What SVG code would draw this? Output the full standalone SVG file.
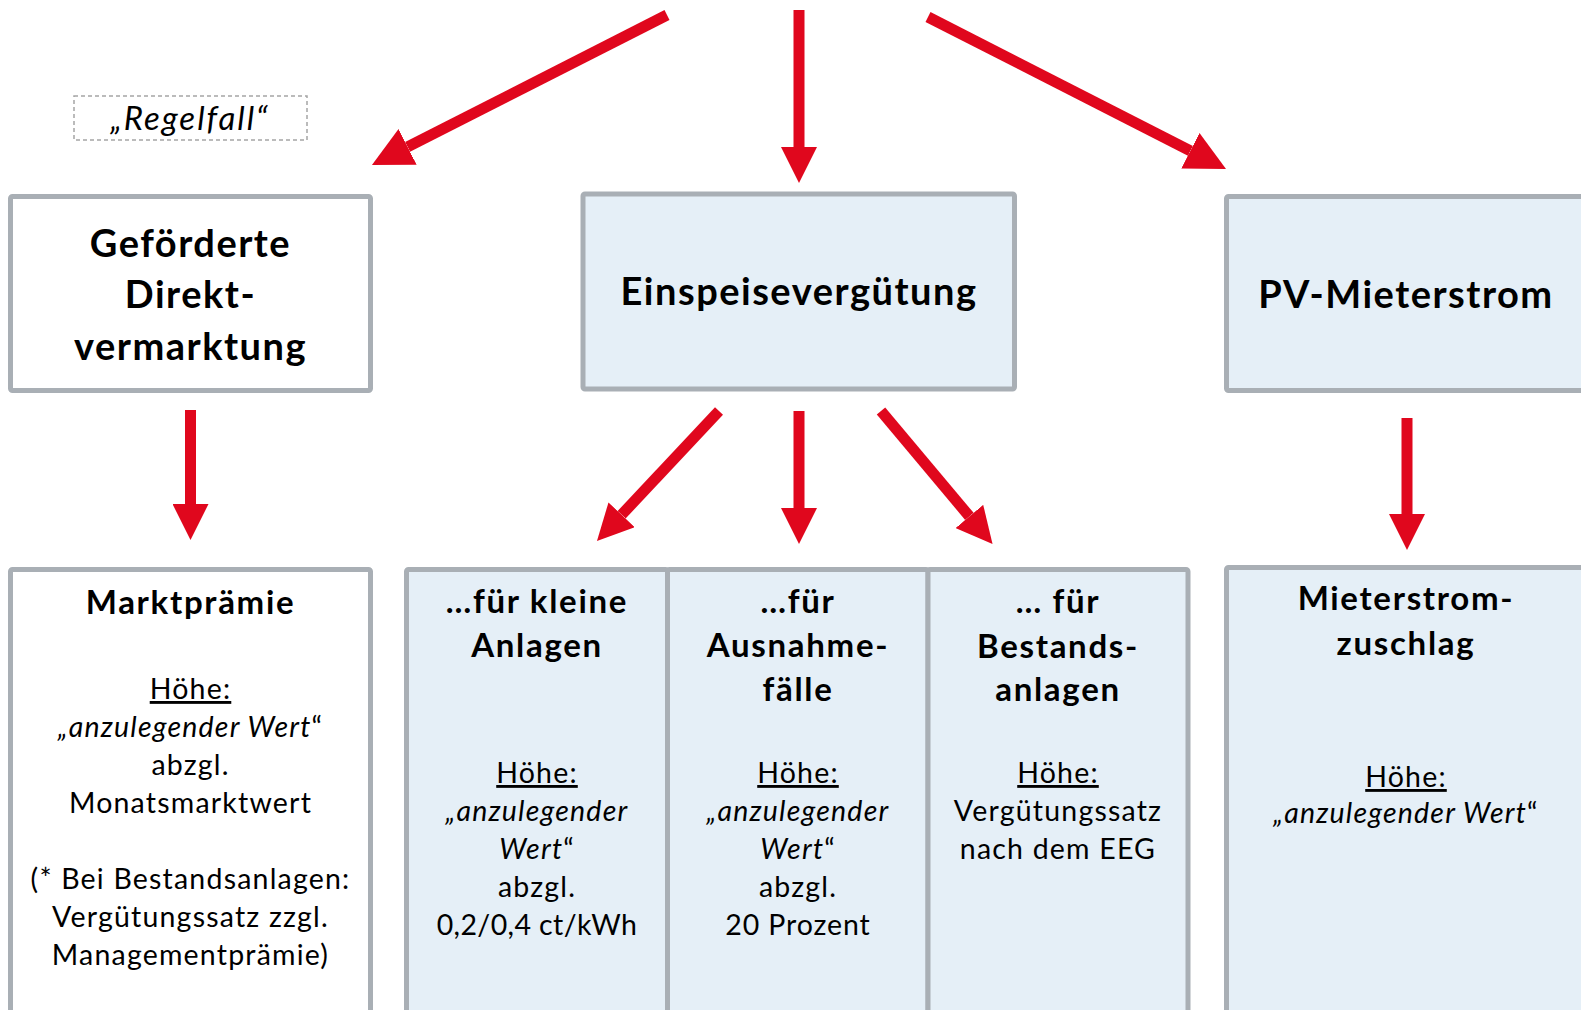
<svg xmlns="http://www.w3.org/2000/svg" width="1581" height="1010" viewBox="0 0 1581 1010">
<style>
text { font-family: Lato, "Liberation Sans", sans-serif; fill: #000; text-anchor: middle; }
.h1 { font-size: 38px; font-weight: bold; letter-spacing: 1.5px; }
.h2 { font-size: 33px; font-weight: bold; letter-spacing: 1.7px; }
.b { font-size: 28.5px; letter-spacing: 1.2px; }
.u { text-decoration: underline; }
.i { font-style: italic; }
.box { stroke: #a9afb5; stroke-width: 5; }
.blue { fill: #e5eff7; }
.white { fill: #ffffff; }
.arr { stroke: #e0071d; stroke-width: 11; fill: none; }
</style>
<defs>
<marker id="ah" markerUnits="userSpaceOnUse" markerWidth="36" markerHeight="36" viewBox="0 0 10 10" refX="0" refY="5" orient="auto">
<path d="M0,0 L10,5 L0,10 z" fill="#e0071d"/>
</marker>
<marker id="ahd" markerUnits="userSpaceOnUse" markerWidth="40" markerHeight="40" viewBox="0 0 10 10" refX="0" refY="5" orient="auto">
<path d="M0,0 L10,5 L0,10 z" fill="#e0071d"/>
</marker>
</defs>
<rect width="1581" height="1010" fill="#ffffff"/>

<g id="regelfall">
<rect x="74" y="96" width="233" height="44" fill="none" stroke="#a5a5a5" stroke-width="1.5" stroke-dasharray="4 3"/>
<text x="190" y="130" class="i" style="font-size:33px;letter-spacing:2px">„Regelfall“</text>
</g>

<g id="connectors">
<line class="arr" x1="667" y1="15" x2="407.6" y2="146.9" marker-end="url(#ahd)"/>
<line class="arr" x1="799" y1="10" x2="799" y2="147" marker-end="url(#ah)"/>
<line class="arr" x1="928" y1="17" x2="1190.4" y2="150.8" marker-end="url(#ahd)"/>
<line class="arr" x1="190.5" y1="410" x2="190.5" y2="504" marker-end="url(#ah)"/>
<line class="arr" x1="719" y1="411" x2="621.6" y2="514.8" marker-end="url(#ah)"/>
<line class="arr" x1="799" y1="411" x2="799" y2="508" marker-end="url(#ah)"/>
<line class="arr" x1="881" y1="411" x2="969.4" y2="516.4" marker-end="url(#ah)"/>
<line class="arr" x1="1407" y1="418" x2="1407" y2="514" marker-end="url(#ah)"/>
</g>

<g id="direktvermarktung">
<rect class="box white" x="10.5" y="196.5" width="360" height="194" rx="2"/>
<text class="h1" x="190.5" y="257">Geförderte</text>
<text class="h1" x="190.5" y="308">Direkt-</text>
<text class="h1" x="190.5" y="360">vermarktung</text>
</g>

<g id="einspeiseverguetung">
<rect class="box blue" x="583" y="194" width="431.5" height="195" rx="2"/>
<text class="h1" x="799" y="305">Einspeisevergütung</text>
</g>

<g id="pv-mieterstrom">
<rect class="box blue" x="1226.5" y="196.5" width="360" height="194" rx="2"/>
<text class="h1" x="1406" y="308">PV-Mieterstrom</text>
</g>

<g id="marktpraemie">
<rect class="box white" x="10.5" y="569.5" width="360" height="500" rx="2"/>
<text class="h2" x="190.5" y="614">Marktprämie</text>
<text class="b u" x="190.5" y="699">Höhe:</text>
<text class="b" x="190.5" y="737"><tspan class="i">„anzulegender Wert</tspan>“</text>
<text class="b" x="190.5" y="775">abzgl.</text>
<text class="b" x="190.5" y="813">Monatsmarktwert</text>
<text class="b" x="190.5" y="889">(* Bei Bestandsanlagen:</text>
<text class="b" x="190.5" y="927">Vergütungssatz zzgl.</text>
<text class="b" x="190.5" y="965">Managementprämie)</text>
</g>

<g id="kleine-anlagen">
<rect class="box blue" x="406.5" y="569.5" width="261" height="500" rx="2"/>
<text class="h2" x="537" y="613">…für kleine</text>
<text class="h2" x="537" y="657">Anlagen</text>
<text class="b u" x="537" y="783">Höhe:</text>
<text class="b" x="537" y="821"><tspan class="i">„anzulegender</tspan></text>
<text class="b" x="537" y="859"><tspan class="i">Wert</tspan>“</text>
<text class="b" x="537" y="897">abzgl.</text>
<text class="b" x="537" y="935" style="letter-spacing:0.4px">0,2/0,4 ct/kWh</text>
</g>

<g id="ausnahmefaelle">
<rect class="box blue" x="667.5" y="569.5" width="260.5" height="500" rx="2"/>
<text class="h2" x="798" y="613">…für</text>
<text class="h2" x="798" y="657">Ausnahme-</text>
<text class="h2" x="798" y="701">fälle</text>
<text class="b u" x="798" y="783">Höhe:</text>
<text class="b" x="798" y="821"><tspan class="i">„anzulegender</tspan></text>
<text class="b" x="798" y="859"><tspan class="i">Wert</tspan>“</text>
<text class="b" x="798" y="897">abzgl.</text>
<text class="b" x="798" y="935" style="letter-spacing:0.9px">20 Prozent</text>
</g>

<g id="bestandsanlagen">
<rect class="box blue" x="928" y="569.5" width="260" height="500" rx="2"/>
<text class="h2" x="1058" y="613">… für</text>
<text class="h2" x="1058" y="658">Bestands-</text>
<text class="h2" x="1058" y="701">anlagen</text>
<text class="b u" x="1058" y="783">Höhe:</text>
<text class="b" x="1058" y="821">Vergütungssatz</text>
<text class="b" x="1058" y="859">nach dem EEG</text>
</g>

<g id="mieterstromzuschlag">
<rect class="box blue" x="1226.5" y="567.5" width="360" height="500" rx="2"/>
<text class="h2" x="1406" y="610">Mieterstrom-</text>
<text class="h2" x="1406" y="655">zuschlag</text>
<text class="b u" x="1406" y="787">Höhe:</text>
<text class="b" x="1406" y="823"><tspan class="i">„anzulegender Wert</tspan>“</text>
</g>
</svg>
